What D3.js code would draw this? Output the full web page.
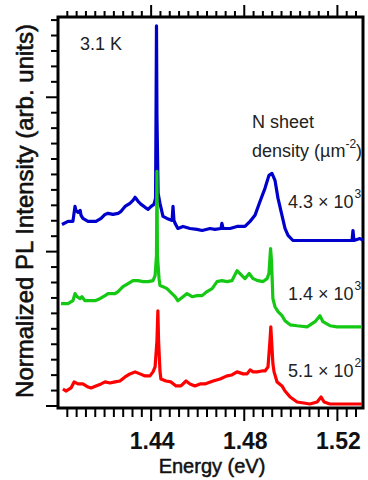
<!DOCTYPE html>
<html>
<head>
<meta charset="utf-8">
<script src="https://cdn.jsdelivr.net/npm/d3@7"></script>
<style>
  body { margin: 0; background: #fff; }
  text { font-family: 'Liberation Sans', Arial, sans-serif; }
</style>
</head>
<body>
<script>
// spectra: energy (eV) and normalized, offset intensity
const blueEnergy = [1.4017, 1.4043, 1.4064, 1.4073, 1.4077, 1.4086, 1.4095, 1.4099, 1.4107, 1.4129, 1.4142, 1.4163, 1.4185, 1.4202, 1.4215, 1.4236, 1.4258, 1.4271, 1.4288, 1.4309, 1.4322, 1.4331, 1.4344, 1.4357, 1.4374, 1.4387, 1.44, 1.4412, 1.4419, 1.4421, 1.4423, 1.4425, 1.443, 1.4438, 1.4451, 1.4468, 1.449, 1.4494, 1.4498, 1.4503, 1.4515, 1.4537, 1.4567, 1.4597, 1.4619, 1.4653, 1.4674, 1.47, 1.4704, 1.4709, 1.4739, 1.4769, 1.4803, 1.4825, 1.4846, 1.4868, 1.4889, 1.4906, 1.4919, 1.4932, 1.4945, 1.4962, 1.4975, 1.4988, 1.5009, 1.5052, 1.5155, 1.5254, 1.5263, 1.5267, 1.5271, 1.5297, 1.531];
const blueIntensity = [1.176, 1.196, 1.196, 1.293, 1.267, 1.254, 1.267, 1.235, 1.215, 1.196, 1.196, 1.196, 1.215, 1.241, 1.248, 1.241, 1.248, 1.261, 1.293, 1.313, 1.332, 1.352, 1.326, 1.306, 1.287, 1.274, 1.293, 1.306, 1.345, 1.878, 2.463, 1.878, 1.378, 1.313, 1.228, 1.215, 1.202, 1.293, 1.202, 1.183, 1.15, 1.163, 1.15, 1.144, 1.137, 1.15, 1.144, 1.15, 1.183, 1.15, 1.15, 1.163, 1.163, 1.196, 1.235, 1.326, 1.41, 1.494, 1.507, 1.462, 1.345, 1.235, 1.15, 1.105, 1.072, 1.072, 1.072, 1.072, 1.072, 1.137, 1.072, 1.085, 1.072];

const greenEnergy = [1.4013, 1.4043, 1.4064, 1.4073, 1.4082, 1.4095, 1.4103, 1.4116, 1.4137, 1.4159, 1.418, 1.4202, 1.4215, 1.4245, 1.4258, 1.4279, 1.4301, 1.4322, 1.4344, 1.4365, 1.4387, 1.4408, 1.4417, 1.4423, 1.4425, 1.4427, 1.4434, 1.4438, 1.4451, 1.4468, 1.4481, 1.4503, 1.4515, 1.4537, 1.4554, 1.4576, 1.4597, 1.4619, 1.464, 1.4662, 1.4683, 1.4704, 1.4726, 1.4747, 1.4769, 1.479, 1.4803, 1.4821, 1.4838, 1.4859, 1.4881, 1.4898, 1.4906, 1.4913, 1.4917, 1.4923, 1.4932, 1.4945, 1.4962, 1.4975, 1.4997, 1.5027, 1.507, 1.5104, 1.5125, 1.5138, 1.5168, 1.5198, 1.5306];
const greenIntensity = [0.663, 0.663, 0.682, 0.728, 0.708, 0.695, 0.708, 0.682, 0.682, 0.682, 0.695, 0.715, 0.728, 0.728, 0.741, 0.773, 0.793, 0.812, 0.812, 0.806, 0.806, 0.812, 0.845, 0.975, 1.52, 0.975, 0.825, 0.78, 0.773, 0.76, 0.741, 0.708, 0.682, 0.708, 0.728, 0.708, 0.715, 0.715, 0.741, 0.76, 0.806, 0.812, 0.806, 0.812, 0.877, 0.845, 0.825, 0.858, 0.825, 0.812, 0.806, 0.825, 0.858, 1.02, 0.942, 0.695, 0.643, 0.611, 0.585, 0.552, 0.526, 0.52, 0.513, 0.546, 0.585, 0.546, 0.52, 0.513, 0.513];

const redEnergy = [1.4021, 1.4034, 1.4056, 1.4069, 1.4086, 1.4107, 1.4129, 1.4142, 1.4163, 1.4185, 1.4202, 1.4223, 1.4245, 1.4266, 1.4288, 1.4309, 1.4331, 1.4352, 1.4374, 1.4395, 1.4408, 1.4417, 1.4425, 1.4429, 1.4432, 1.4438, 1.4442, 1.4464, 1.4485, 1.4507, 1.4528, 1.455, 1.4567, 1.4588, 1.461, 1.4631, 1.4666, 1.4696, 1.4726, 1.4747, 1.4769, 1.4795, 1.4812, 1.4825, 1.4838, 1.4855, 1.4876, 1.4889, 1.4902, 1.4911, 1.4914, 1.4917, 1.4923, 1.4928, 1.4941, 1.4962, 1.4975, 1.4997, 1.5027, 1.5082, 1.5113, 1.513, 1.5143, 1.5168, 1.5306];
const redIntensity = [0.11, 0.097, 0.117, 0.156, 0.143, 0.143, 0.123, 0.117, 0.13, 0.143, 0.156, 0.149, 0.156, 0.162, 0.188, 0.208, 0.221, 0.208, 0.195, 0.195, 0.221, 0.253, 0.422, 0.617, 0.422, 0.227, 0.175, 0.162, 0.156, 0.13, 0.13, 0.162, 0.143, 0.13, 0.143, 0.143, 0.162, 0.175, 0.195, 0.201, 0.221, 0.208, 0.208, 0.234, 0.221, 0.221, 0.227, 0.227, 0.253, 0.435, 0.513, 0.435, 0.273, 0.221, 0.156, 0.13, 0.097, 0.058, 0.026, 0.013, 0.026, 0.058, 0.026, 0.013, 0.013];

const seriesColors = ['#0000cc', '#14c814', '#ff0000'];
const densityMantissa = ['4.3', '1.4', '5.1'];
const densityExponent = ['3', '3', '2'];
const xTickLabels = [1.44, 1.48, 1.52];

const width = 368;
const height = 480;

const svg = d3
  .select('body')
  .append('svg')
  .attr('width', width)
  .attr('height', height);

const x = d3.scaleLinear().domain([1.4, 1.531]).range([58, 363]);
const y = d3.scaleLinear().domain([-0.013, 2.52]).range([408, 17]);

// minor / major ticks
const xMinor = d3.range(1.404, 1.5295, 0.004).map((d) => +d.toFixed(3));
const yMinor = d3.range(0, 2.55, 0.1).map((d) => +d.toFixed(1));
const isMajorX = (d) => xTickLabels.some((t) => Math.abs(t - d) < 1e-6);
const isMajorY = (d) => Math.abs(d - Math.round(d)) < 1e-6;

const tickG = svg.append('g').attr('stroke', '#000').attr('stroke-width', 2);

tickG
  .selectAll('.xb')
  .data(xMinor)
  .join('line')
  .attr('x1', (d) => x(d))
  .attr('x2', (d) => x(d))
  .attr('y1', y.range()[0])
  .attr('y2', (d) => y.range()[0] + (isMajorX(d) ? 13 : 9));

tickG
  .selectAll('.xt')
  .data(xMinor)
  .join('line')
  .attr('x1', (d) => x(d))
  .attr('x2', (d) => x(d))
  .attr('y1', y.range()[1])
  .attr('y2', (d) => y.range()[1] - (isMajorX(d) ? 12 : 6));

tickG
  .selectAll('.yl')
  .data(yMinor)
  .join('line')
  .attr('y1', (d) => y(d))
  .attr('y2', (d) => y(d))
  .attr('x1', x.range()[0])
  .attr('x2', (d) => x.range()[0] - (isMajorY(d) ? 12 : 7));

// frame
svg
  .append('rect')
  .attr('x', x.range()[0])
  .attr('y', y.range()[1])
  .attr('width', x.range()[1] - x.range()[0])
  .attr('height', y.range()[0] - y.range()[1])
  .attr('fill', 'none')
  .attr('stroke', '#000')
  .attr('stroke-width', 3);

// tick labels
svg
  .selectAll('.xlab')
  .data(xTickLabels)
  .join('text')
  .attr('x', (d) => x(d) + 1)
  .attr('y', 449)
  .attr('text-anchor', 'middle')
  .style('font-size', '23px')
  .style('font-weight', 'bold')
  .attr('fill', '#111')
  .text((d) => d.toFixed(2));

// axis titles
svg
  .append('text')
  .attr('x', 212)
  .attr('y', 473)
  .attr('text-anchor', 'middle')
  .style('font-size', '20px')
  .attr('fill', '#111')
  .attr('stroke', '#111')
  .attr('stroke-width', 0.5)
  .text('Energy (eV)');

svg
  .append('text')
  .attr('transform', 'translate(33,211) rotate(-90)')
  .attr('text-anchor', 'middle')
  .style('font-size', '24px')
  .attr('fill', '#111')
  .attr('stroke', '#111')
  .attr('stroke-width', 0.6)
  .text('Normalized PL Intensity (arb. units)');

// spectra
const spectra = [
  { e: blueEnergy, v: blueIntensity },
  { e: greenEnergy, v: greenIntensity },
  { e: redEnergy, v: redIntensity },
];

const line = d3
  .line()
  .x((d) => x(d[0]))
  .y((d) => y(d[1]));

svg
  .append('g')
  .selectAll('path')
  .data(spectra)
  .join('path')
  .attr('d', (s) => line(s.e.map((e, i) => [e, s.v[i]])))
  .attr('fill', 'none')
  .attr('stroke', (s, i) => seriesColors[i])
  .attr('stroke-width', 3.2)
  .attr('stroke-linejoin', 'round');

// annotations
svg
  .append('text')
  .attr('x', 80)
  .attr('y', 50)
  .style('font-size', '18px')
  .attr('fill', '#222')
  .text('3.1 K');

svg
  .append('text')
  .attr('x', 252)
  .attr('y', 128)
  .style('font-size', '18px')
  .attr('fill', '#222')
  .text('N sheet');

const dens = svg
  .append('text')
  .attr('x', 252)
  .attr('y', 157)
  .style('font-size', '18px')
  .attr('fill', '#222');
dens.append('tspan').text('density (\u00b5m');
dens.append('tspan').attr('dy', -9).style('font-size', '12px').text('-2');
dens.append('tspan').attr('dy', 9).text(')');

const labelY = [208, 300, 377];
densityMantissa.forEach((m, i) => {
  const t = svg
    .append('text')
    .attr('x', 288)
    .attr('y', labelY[i])
    .style('font-size', '18px')
    .attr('fill', '#222');
  t.append('tspan').text(m + ' \u00d7 10');
  t.append('tspan')
    .attr('dy', -10)
    .attr('dx', 1)
    .style('font-size', '12px')
    .text(densityExponent[i]);
});
</script>
</body>
</html>
